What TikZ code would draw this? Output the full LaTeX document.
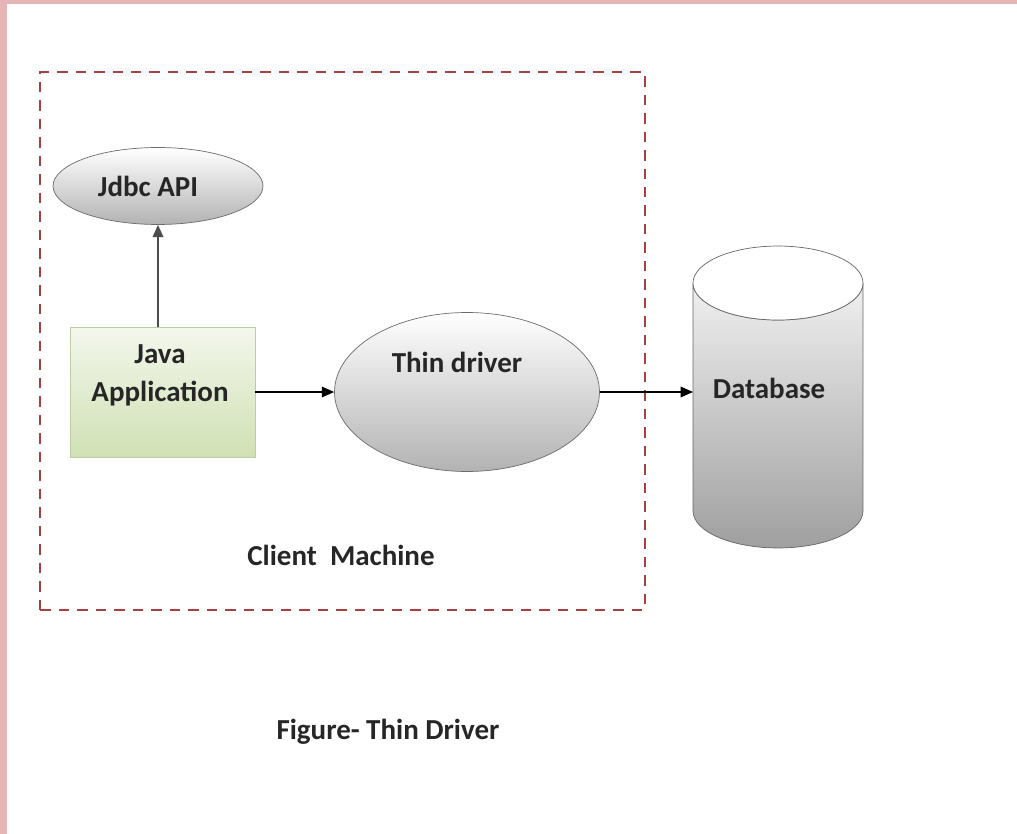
\documentclass[tikz,border=0pt]{standalone}
\usepackage{fontspec}
\setmainfont{Carlito}
\usetikzlibrary{shapes.geometric,arrows.meta,positioning}
\definecolor{pinkedge}{RGB}{228,180,182}
\definecolor{clientred}{RGB}{165,65,65}
\definecolor{appgreen}{RGB}{208,224,180}
\definecolor{appedge}{RGB}{190,204,165}

\tikzset{
  lbl/.style={font=\bfseries\fontsize{16.5}{21.5}\selectfont, text=black!85, align=center},
  oval/.style={ellipse, draw=gray!85!black, top color=white, bottom color=gray!60, inner sep=0pt},
  appbox/.style={rectangle, draw=appedge, top color=appgreen!25, bottom color=appgreen},
  clientbox/.style={rectangle, draw=clientred, line width=0.8pt, dash pattern=on 0.21cm off 0.16cm},
  link/.style={-{Triangle[length=7pt,width=6pt]}, line width=0.8pt}
}

\begin{document}
\begin{tikzpicture}[x=0.02cm,y=0.02cm]
\useasboundingbox (0,0) rectangle (1017,-834);
\fill[white] (0,0) rectangle (1017,-834);
\fill[pinkedge] (0,0) rectangle (1017,-4);
\fill[pinkedge] (0,0) rectangle (7,-834);

\node[clientbox, minimum width=12.1cm, minimum height=10.76cm] (client) at (342.5,-341) {};

\node[oval, minimum width=4.2cm, minimum height=1.54cm] (jdbc) at (158,-186) {};
\node[appbox, minimum width=3.7cm, minimum height=2.6cm] (app) at (162.5,-392) {};
\node[oval, minimum width=5.3cm, minimum height=3.18cm] (driver) at (467,-392) {};
\node[rectangle, outer sep=0pt, minimum width=3.4cm, minimum height=4.56cm] (db) at (778,-397) {};

% cylinder round the db node
\shade[top color=gray!12, bottom color=gray!75, draw=black!60]
  (db.north west) -- (db.south west)
  arc[start angle=180, end angle=360, x radius=1.7cm, y radius=0.74cm]
  -- (db.north east)
  arc[start angle=0, end angle=-180, x radius=1.7cm, y radius=0.74cm] -- cycle;
\draw[fill=white, draw=black!60] (db.north) ellipse[x radius=1.7cm, y radius=0.74cm];

\node[lbl] (jdbctext) at (148,-186) {Jdbc API};
\node[lbl] (apptext) at (160,-375) {Java\\Application};
\node[lbl] (drivertext) at (457,-362) {Thin driver};
\node[lbl] (dbtext) at (769,-388) {Database};
\node[lbl] (clienttext) at (341,-555) {Client\ \ Machine};
\node[lbl] (figtext) at (388,-732) {Figure- Thin Driver};

\draw[link, draw=black!70, line width=1.1pt] (app.north -| jdbc.south) -- (jdbc.south);
\draw[link] (app.east) -- (driver.west);
\draw[link] (driver.east) -- (driver.east -| db.west);
\end{tikzpicture}
\end{document}
